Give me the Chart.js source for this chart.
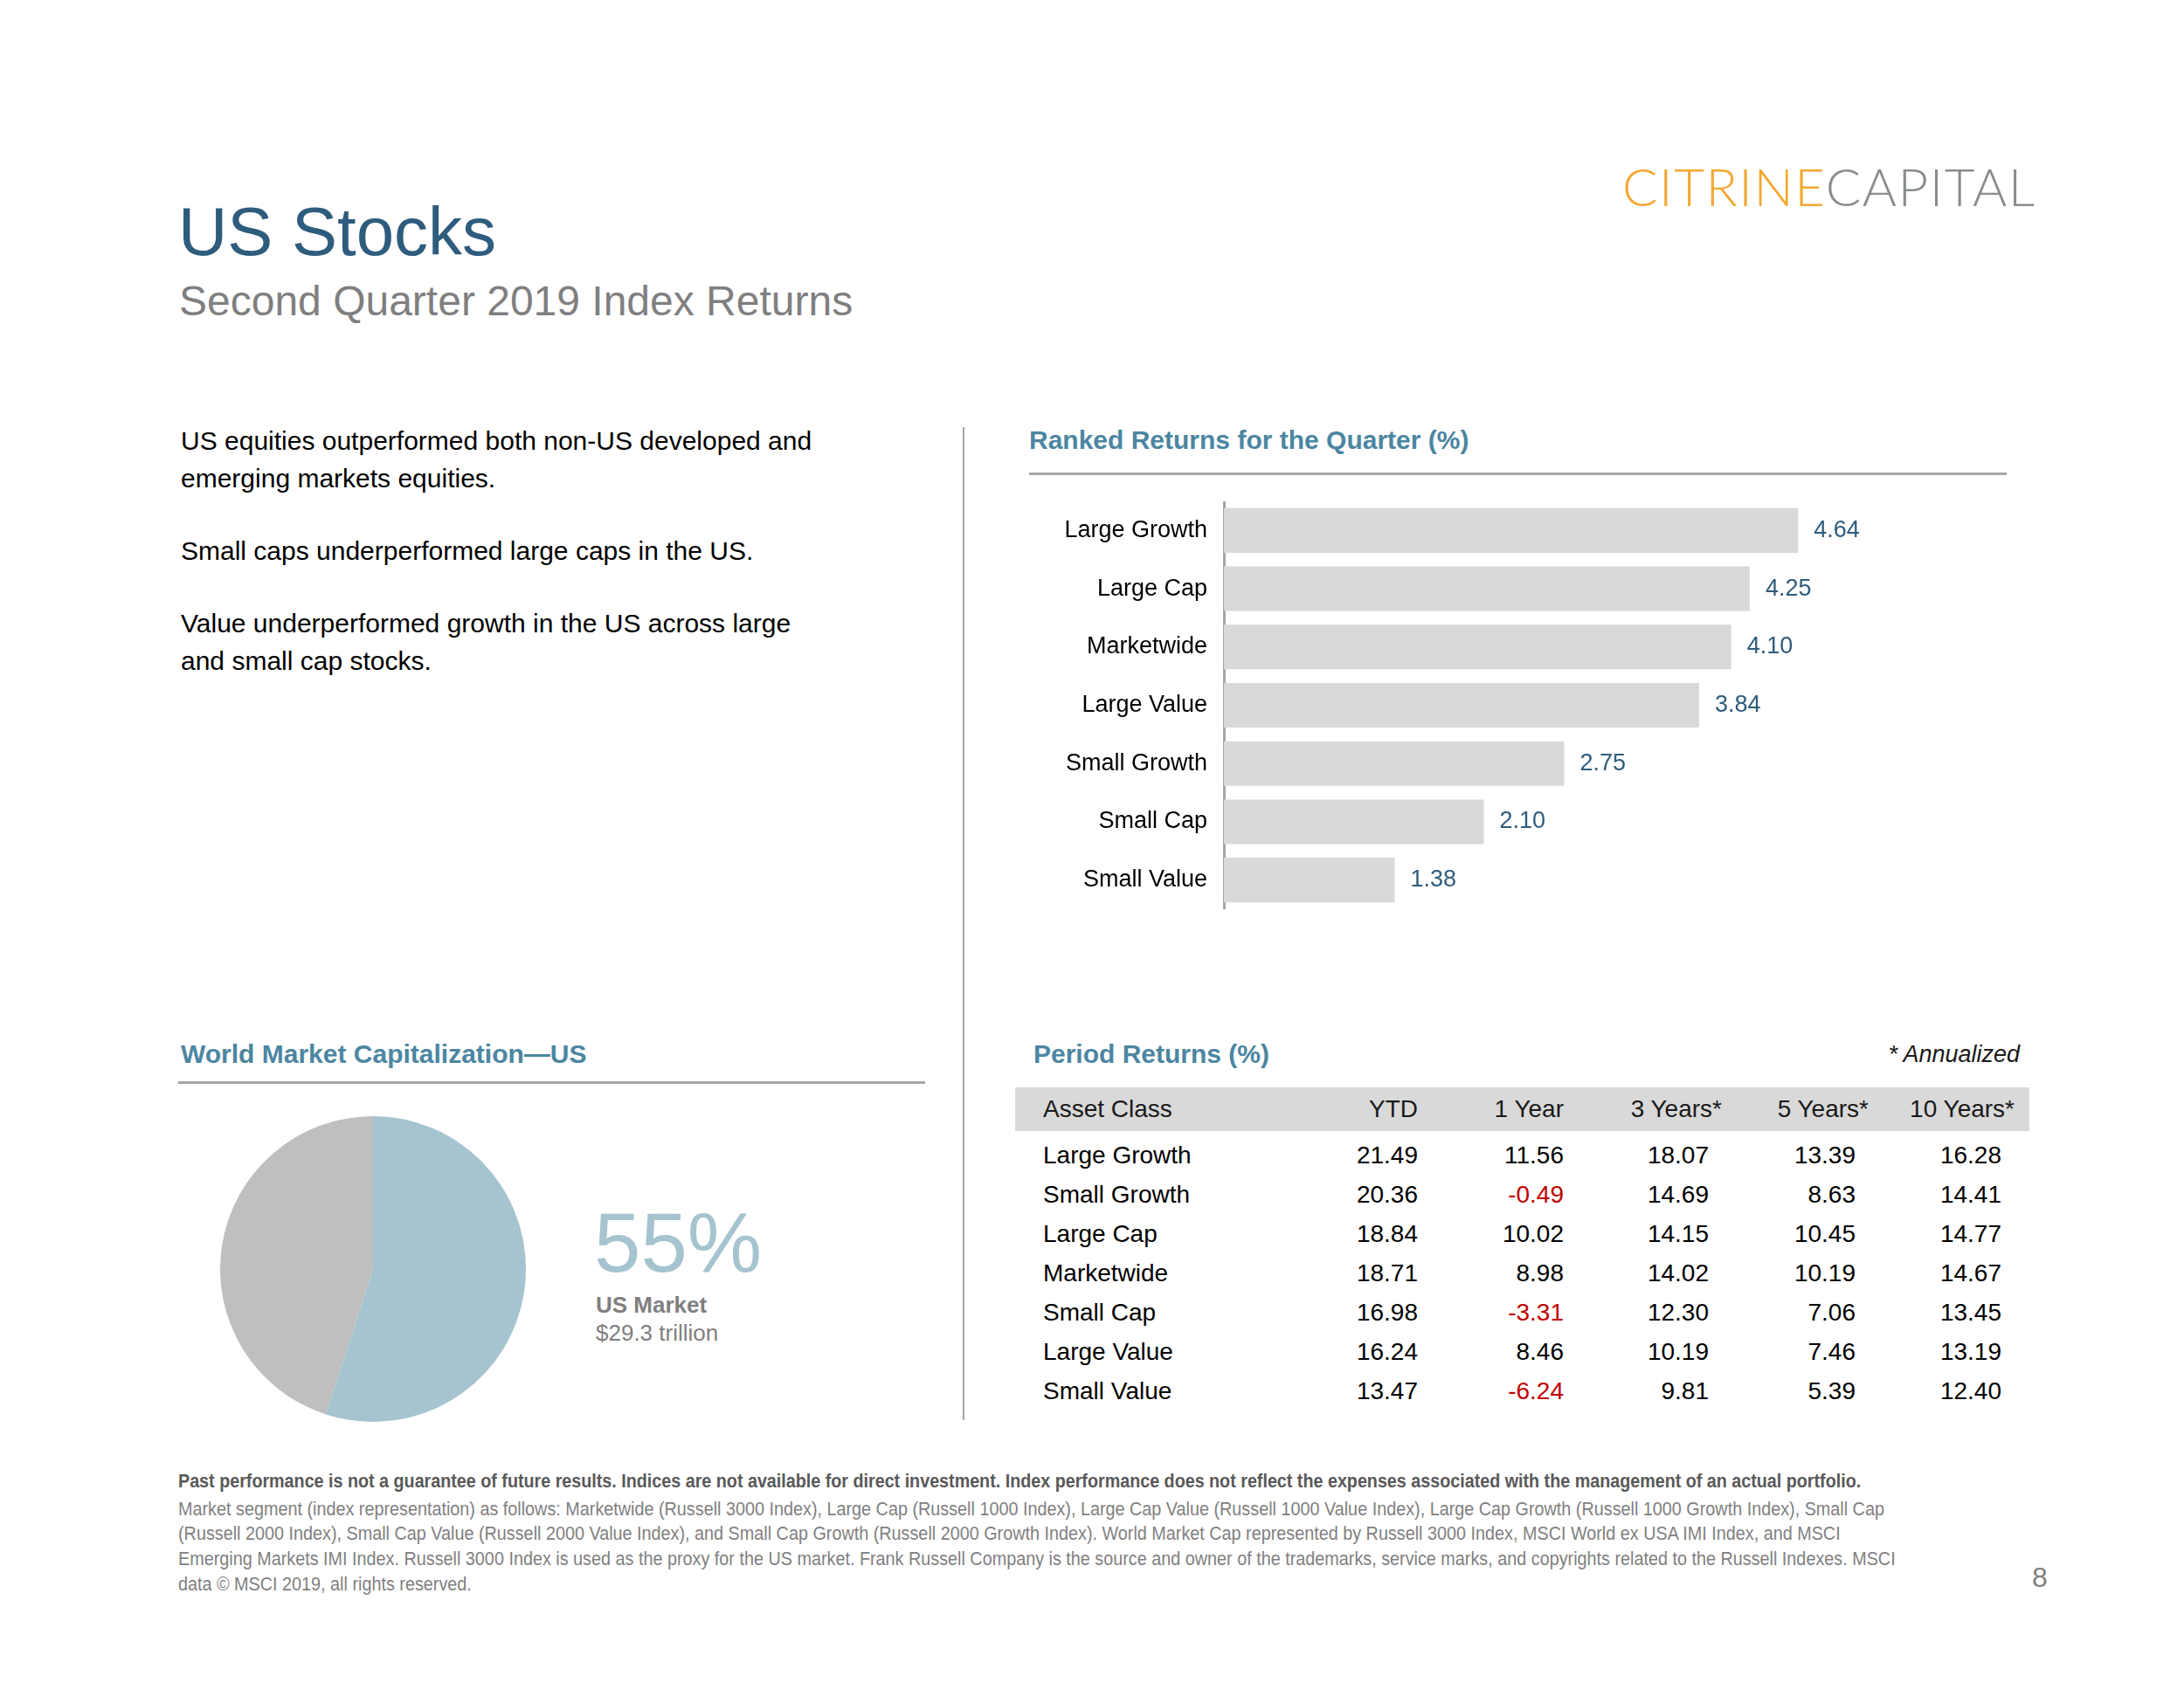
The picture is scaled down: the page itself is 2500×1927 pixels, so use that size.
<!DOCTYPE html>
<html>
<head>
<meta charset="utf-8">
<title>US Stocks</title>
<script src="https://cdn.jsdelivr.net/npm/chart.js@4.4.1/dist/chart.umd.min.js"></script>
<style>
  body { margin: 0; background: #fff; font-family: "Liberation Sans", Arial, sans-serif; }
  #page { position: relative; width: 2500px; height: 1927px; overflow: hidden; background: #fff; }
  .abs { position: absolute; white-space: nowrap; }
  .head { font-size: 30px; line-height: 30px; font-weight: bold; color: #4B86A1; }
  .rule { position: absolute; height: 3px; background: #A6A6A6; }
  #intro { left: 207px; top: 483px; font-size: 30px; line-height: 43px; color: #000; }
  #intro p { margin: 0 0 40px 0; }
  #periodTable { position: absolute; left: 1162px; top: 1245px; width: 1161px; border-collapse: collapse; table-layout: fixed; font-size: 28px; color: #000; }
  #periodTable th, #periodTable td { padding: 0; text-align: right; font-weight: normal; white-space: nowrap; }
  #periodTable thead tr { height: 50px; background: #D9D9D9; color: #1a1a1a; }
  #periodTable tbody tr { height: 45px; }
  #periodTable tbody tr.gap { height: 5px; }
  #periodTable .first { text-align: left; padding-left: 32px; }
  .neg { color: #C00000; }
  .foot { position: absolute; left: 204px; font-size: 22px; line-height: 29px; color: #7F7F7F; white-space: nowrap; transform-origin: left center; }
</style>
</head>
<body>
<div id="page">
  <div class="abs" style="left:1857px; top:183px; font-family:Lato, 'Open Sans', sans-serif; font-weight:300; font-size:60px; line-height:60px; letter-spacing:1.5px;" id="logo"><span style="color:#F5A730">CITRINE</span><span style="color:#8A8D8F">CAPITAL</span></div>

  <div class="abs" style="left:204px; top:226px; font-size:78px; line-height:78px; color:#2E5C7D;">US Stocks</div>
  <div class="abs" style="left:205px; top:321px; font-size:48px; line-height:48px; color:#7F7F7F;">Second Quarter 2019 Index Returns</div>

  <div class="abs" id="intro">
    <p>US equities outperformed both non-US developed and<br>emerging markets equities.</p>
    <p>Small caps underperformed large caps in the US.</p>
    <p>Value underperformed growth in the US across large<br>and small cap stocks.</p>
  </div>

  <div style="position:absolute; left:1102px; top:489px; width:2px; height:1137px; background:#A6A6A6;"></div>

  <div class="abs head" style="left:1178px; top:489px;">Ranked Returns for the Quarter (%)</div>
  <div class="rule" style="left:1178px; top:541px; width:1119px;"></div>
  <canvas id="barChart" width="1002" height="467" style="position:absolute; left:1178px; top:574px;"></canvas>

  <div class="abs head" style="left:207px; top:1192px;">World Market Capitalization—US</div>
  <div class="rule" style="left:204px; top:1238px; width:855px;"></div>
  <canvas id="pieChart" width="350" height="350" style="position:absolute; left:252px; top:1278px;"></canvas>
  <div class="abs" style="left:680px; top:1375px; font-size:96px; line-height:96px; color:#A5C4CF;">55%</div>
  <div class="abs" style="left:682px; top:1481px; font-size:26px; line-height:26px; font-weight:bold; color:#7F7F7F;">US Market</div>
  <div class="abs" style="left:682px; top:1513px; font-size:26px; line-height:26px; color:#7F7F7F;">$29.3 trillion</div>

  <div class="abs head" style="left:1183px; top:1192px;">Period Returns (%)</div>
  <div class="abs" style="right:188px; top:1194px; font-size:27px; line-height:27px; font-style:italic; color:#1a1a1a;">* Annualized</div>
  <table id="periodTable">
    <colgroup>
      <col style="width:378px"><col style="width:83px"><col style="width:167px"><col style="width:166px"><col style="width:168px"><col style="width:167px"><col style="width:32px">
    </colgroup>
    <thead><tr id="headRow"></tr></thead>
    <tbody id="bodyRows"></tbody>
  </table>

  <div class="foot" style="top:1681px; font-weight:bold; color:#595959;">Past performance is not a guarantee of future results. Indices are not available for direct investment. Index performance does not reflect the expenses associated with the management of an actual portfolio.</div>
  <div class="foot" style="top:1713px;">Market segment (index representation) as follows: Marketwide (Russell 3000 Index), Large Cap (Russell 1000 Index), Large Cap Value (Russell 1000 Value Index), Large Cap Growth (Russell 1000 Growth Index), Small Cap</div>
  <div class="foot" style="top:1741px;">(Russell 2000 Index), Small Cap Value (Russell 2000 Value Index), and Small Cap Growth (Russell 2000 Growth Index). World Market Cap represented by Russell 3000 Index, MSCI World ex USA IMI Index, and MSCI</div>
  <div class="foot" style="top:1770px;">Emerging Markets IMI Index. Russell 3000 Index is used as the proxy for the US market. Frank Russell Company is the source and owner of the trademarks, service marks, and copyrights related to the Russell Indexes. MSCI</div>
  <div class="foot" style="top:1799px;">data © MSCI 2019, all rights reserved.</div>

  <div class="abs" style="left:2326px; top:1790px; font-size:32px; line-height:32px; color:#7F7F7F;">8</div>
</div>

<script>
// data - ranked returns for the quarter
const categories = ["Large Growth", "Large Cap", "Marketwide", "Large Value", "Small Growth", "Small Cap", "Small Value"];
const quarterReturns = [4.64, 4.25, 4.10, 3.84, 2.75, 2.10, 1.38];

// data - world market cap
const marketLabels = ["US Market", "Non-US Market"];
const marketShare = [55, 45];

// data - period returns table
const assetClasses = ["Large Growth", "Small Growth", "Large Cap", "Marketwide", "Small Cap", "Large Value", "Small Value"];
const periodLabels = ["YTD", "1 Year", "3 Years*", "5 Years*", "10 Years*"];
const ytd = [21.49, 20.36, 18.84, 18.71, 16.98, 16.24, 13.47];
const oneYear = [11.56, -0.49, 10.02, 8.98, -3.31, 8.46, -6.24];
const threeYears = [18.07, 14.69, 14.15, 14.02, 12.30, 10.19, 9.81];
const fiveYears = [13.39, 8.63, 10.45, 10.19, 7.06, 7.46, 5.39];
const tenYears = [16.28, 14.41, 14.77, 14.67, 13.45, 13.19, 12.40];

Chart.defaults.font.family = '"Liberation Sans", Arial, sans-serif';

// value labels to the right of each bar
const valueLabels = {
    id: "valueLabels",
    afterDatasetsDraw(chart) {
        const ctx = chart.ctx;
        const meta = chart.getDatasetMeta(0);
        ctx.save();
        ctx.font = '27px "Liberation Sans", Arial, sans-serif';
        ctx.fillStyle = "#2E5C7D";
        ctx.textAlign = "left";
        ctx.textBaseline = "middle";
        meta.data.forEach((bar, i) => {
            ctx.fillText(quarterReturns[i].toFixed(2), bar.x + 18, bar.y);
        });
        ctx.restore();
    }
};

new Chart(document.getElementById("barChart"), {
    type: "bar",
    data: {
        labels: categories,
        datasets: [{
            data: quarterReturns,
            backgroundColor: "#D9D9D9",
            borderWidth: 0,
            categoryPercentage: 0.765,
            barPercentage: 1
        }]
    },
    options: {
        indexAxis: "y",
        responsive: false,
        animation: false,
        events: [],
        layout: { padding: 0 },
        plugins: { legend: { display: false }, tooltip: { enabled: false } },
        scales: {
            x: { display: false, min: 0, max: 5.5 },
            y: {
                grid: { display: false, drawTicks: false },
                border: { display: true, color: "#A6A6A6", width: 3 },
                ticks: { color: "#000", font: { size: 27 }, padding: 19 },
                afterFit: (s) => { s.width = 223; s.paddingTop = 0; s.paddingBottom = 0; }
            }
        }
    },
    plugins: [valueLabels]
});

new Chart(document.getElementById("pieChart"), {
    type: "pie",
    data: {
        labels: marketLabels,
        datasets: [{
            data: marketShare,
            backgroundColor: ["#A5C4CF", "#BFBFBF"],
            borderWidth: 0
        }]
    },
    options: {
        responsive: false,
        animation: false,
        events: [],
        layout: { padding: 0 },
        plugins: { legend: { display: false }, tooltip: { enabled: false } }
    }
});

// build the period returns table
let headRow = document.getElementById("headRow");
let html = '<th class="first">Asset Class</th>';
periodLabels.forEach((label) => {
    if (label.endsWith("*")) {
        html += `<th><span style="display:inline-block; margin-right:-15px">${label}</span></th>`;
    } else {
        html += `<th>${label}</th>`;
    }
});
headRow.innerHTML = html + "<th></th>";

let columns = [ytd, oneYear, threeYears, fiveYears, tenYears];
let rows = '<tr class="gap"><td colspan="7"></td></tr>';
assetClasses.forEach((name, i) => {
    rows += `<tr><td class="first">${name}</td>`;
    columns.forEach((col) => {
        let v = col[i];
        rows += `<td class="${v < 0 ? "neg" : ""}">${v.toFixed(2)}</td>`;
    });
    rows += "<td></td></tr>";
});
document.getElementById("bodyRows").innerHTML = rows;

// squeeze footer lines to the narrow width of the original
let foot = document.querySelectorAll(".foot");
let kBold = 1926 / foot[0].scrollWidth;
let kNormal = 1953 / foot[1].scrollWidth;
foot.forEach((el, i) => {
    el.style.transform = `scaleX(${i === 0 ? kBold : kNormal})`;
});
</script>
</body>
</html>
